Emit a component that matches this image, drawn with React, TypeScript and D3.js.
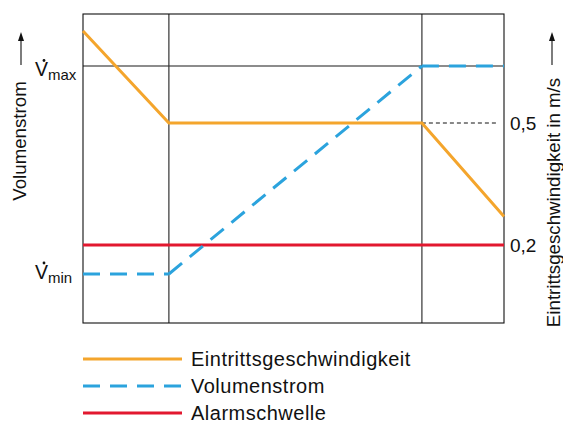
import React from "react";
import * as d3 from "d3";

const phaseX = [0, 20.4, 80.5, 100];
const speedValues = [0.726, 0.5, 0.5, 0.27];
const flowValues = [0, 0, 1, 1];
const alarmValue = 0.2;
const speedTicks = [0.5, 0.2];
const legendItems = ["Eintrittsgeschwindigkeit", "Volumenstrom", "Alarmschwelle"];

const ORANGE = "#f4a52c";
const BLUE = "#2ba3dd";
const RED = "#e2182f";
const FONT = "'Liberation Sans', Arial, Helvetica, sans-serif";

export default function App() {
  const left = 83, right = 504, top = 14, bottom = 323;
  const x = d3.scaleLinear().domain([0, 100]).range([left, right]);
  const ySpeed = d3.scaleLinear().domain([0.2, 0.5]).range([245, 123]);
  const yFlow = d3.scaleLinear().domain([0, 1]).range([274, 66]);

  const speedLine = d3.line<number>().x((_, i) => x(phaseX[i])).y((d) => ySpeed(d));
  const speedPath = speedLine(speedValues) || "";

  const flowSegs = [0, 1, 2].map((i) =>
    d3.line<number>()([
      [x(phaseX[i]), yFlow(flowValues[i])],
      [x(phaseX[i + 1]), yFlow(flowValues[i + 1])],
    ] as any) || ""
  );

  const legendY = [359, 386, 413];
  const dashArr = "17 10";

  return (
    <svg width={563} height={423} style={{ position: "absolute", left: 0, top: 0 }} fontFamily={FONT}>
      <rect x={0} y={0} width={563} height={423} fill="#fff" />
      {/* Vmax reference line */}
      <line x1={left} x2={right} y1={yFlow(1)} y2={yFlow(1)} stroke="#666" strokeWidth={1.4} />
      {/* 0.5 dashed tick line */}
      <line x1={x(phaseX[2])} x2={497} y1={ySpeed(0.5)} y2={ySpeed(0.5)} stroke="#111" strokeWidth={1} strokeDasharray="4 3" />
      {/* phase verticals */}
      {[phaseX[1], phaseX[2]].map((p, i) => (
        <line key={i} x1={x(p)} x2={x(p)} y1={top} y2={bottom} stroke="#333" strokeWidth={1.2} />
      ))}
      {/* frame */}
      <rect x={left} y={top} width={right - left} height={bottom - top} fill="none" stroke="#111" strokeWidth={1.1} />
      {/* alarm */}
      <line x1={left} x2={right} y1={ySpeed(alarmValue)} y2={ySpeed(alarmValue)} stroke={RED} strokeWidth={3} />
      {/* flow */}
      {flowSegs.map((d, i) => (
        <path key={i} d={d} fill="none" stroke={BLUE} strokeWidth={3} strokeDasharray={dashArr} />
      ))}
      {/* speed */}
      <path d={speedPath} fill="none" stroke={ORANGE} strokeWidth={3} strokeLinejoin="miter" />

      {/* right ticks */}
      {speedTicks.map((t) => (
        <text key={t} x={510} y={ySpeed(t) + 7} fontSize={19} fill="#111">
          {String(t).replace(".", ",")}
        </text>
      ))}
      {/* left labels */}
      {[
        { v: 1, sub: "max", dy: 10 },
        { v: 0, sub: "min", dy: 4.5 },
      ].map((o) => (
        <g key={o.sub}>
          <text x={35} y={yFlow(o.v) + o.dy} fontSize={19.5} fill="#111">
            V<tspan fontSize={15} dy={4}>{o.sub}</tspan>
          </text>
          <circle cx={44} cy={yFlow(o.v) + o.dy - 15.5} r={1.4} fill="#111" />
        </g>
      ))}

      {/* left axis title */}
      <text transform="translate(26,141) rotate(-90)" textAnchor="middle" fontSize={18.7} fill="#111">
        Volumenstrom
      </text>
      <line x1={21} x2={21} y1={65} y2={39} stroke="#111" strokeWidth={1.1} />
      <path d="M21,32 L18,41 L24,41 Z" fill="#111" />

      {/* right axis title */}
      <text transform="translate(560,202.5) rotate(-90)" textAnchor="middle" fontSize={18.7} fill="#111">
        Eintrittsgeschwindigkeit in m/s
      </text>
      <line x1={552} x2={552} y1={65} y2={39} stroke="#111" strokeWidth={1.1} />
      <path d="M552,32 L549,41 L555,41 Z" fill="#111" />

      {/* legend */}
      {legendItems.map((name, i) => (
        <g key={name}>
          <line
            x1={83}
            x2={182}
            y1={legendY[i]}
            y2={legendY[i]}
            stroke={[ORANGE, BLUE, RED][i]}
            strokeWidth={3}
            strokeDasharray={i === 1 ? dashArr : undefined}
          />
          <text x={191} y={legendY[i] + 7} fontSize={20} letterSpacing={0.5} fill="#111">
            {name}
          </text>
        </g>
      ))}
    </svg>
  );
}
